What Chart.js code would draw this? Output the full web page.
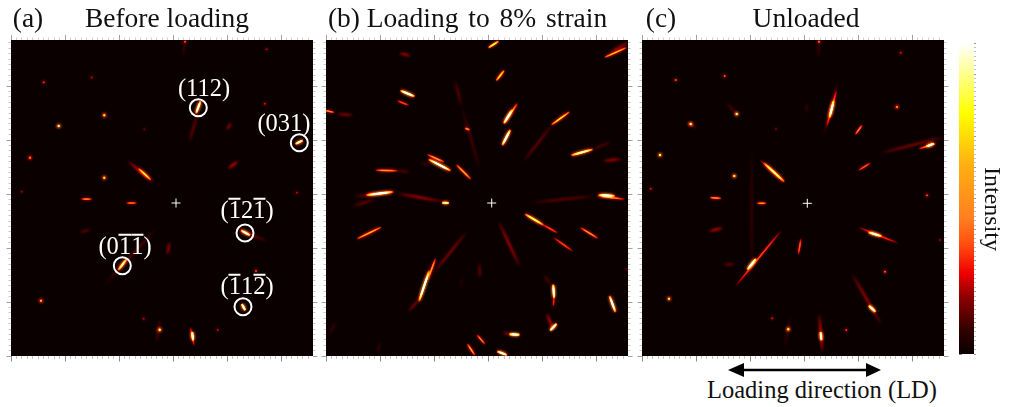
<!DOCTYPE html>
<html><head><meta charset="utf-8">
<script src="https://cdn.jsdelivr.net/npm/chart.js@4"></script>
<style>
html,body{margin:0;padding:0;background:#fff;width:1024px;height:407px;overflow:hidden}
canvas{position:absolute;filter:blur(.3px)}
.t{position:absolute;font-family:"Liberation Serif",serif;color:#111;white-space:pre;line-height:1;transform:translateX(-50%)}
.l{position:absolute;font-family:"Liberation Serif",serif;color:#fff;white-space:pre;line-height:1;font-size:24.5px;transform:translate(-50%,-50%)}
.b{position:relative;display:inline-block}
.b::before{content:"";position:absolute;left:0;right:0;top:0;height:1.5px;background:#fff}
</style></head><body>
<canvas id="pa" width="318" height="332" style="left:3px;top:32px"></canvas>
<canvas id="pb" width="318" height="332" style="left:318px;top:32px"></canvas>
<canvas id="pc" width="318" height="332" style="left:634px;top:32px"></canvas>
<canvas id="cb" width="74" height="335" style="left:950px;top:31px"></canvas>

<div class="t" style="left:28px;top:4px;font-size:27.5px">(a)</div>
<div class="t" style="left:167px;top:4px;font-size:27.5px">Before loading</div>
<div class="t" style="left:344px;top:4px;font-size:27.5px">(b)</div>
<div class="t" style="left:487px;top:4px;font-size:27.5px;word-spacing:3px">Loading to 8% strain</div>
<div class="t" style="left:661px;top:4px;font-size:27.5px">(c)</div>
<div class="t" style="left:806px;top:4px;font-size:27.5px">Unloaded</div>
<div class="t" style="left:822px;top:378px;font-size:24.5px">Loading direction (LD)</div>
<div class="t" style="left:993px;top:167px;font-size:24px;writing-mode:vertical-rl;transform:none;margin-left:-12px">Intensity</div>

<div class="l" style="left:204px;top:88px">(112)</div>
<div class="l" style="left:284px;top:123px">(031)</div>
<div class="l" style="left:247px;top:210px">(<span class="b">1</span>2<span class="b">1</span>)</div>
<div class="l" style="left:125px;top:246px">(0<span class="b">1</span><span class="b">1</span>)</div>
<div class="l" style="left:247px;top:286px">(<span class="b">1</span>1<span class="b">2</span>)</div>

<svg style="position:absolute;left:720px;top:358px" width="170" height="24"><path d="M8 12 L24 5 L24 10.7 L146 10.7 L146 5 L161 12 L146 19 L146 13.3 L24 13.3 L24 19 Z" fill="#000"/></svg>

<script>
// [x1, y1, x2, y2, intensity] in detector coordinates
const streaksA=[[189.8,60.5,184.8,74,170],[186.7,73.3,178,103,25],[284,104.2,292.3,100.2,150],[174,2,172,15,15],[127.3,128.3,140,140,120],[116.7,121,143.3,142.7,40],[216,90,220,82.7,35],[216.7,129,227.3,121,40],[70,159,81,159.3,70],[115,163,126,163,60],[68.3,192.7,80,189.3,22],[107,230.5,116,218.5,140],[93.3,245,146.7,186.7,22],[156.3,215,158.7,201.7,35],[229.5,190,239.5,195.7,170],[223.3,187.3,256.7,201.7,25],[230.5,263.5,234.5,270.8,180],[145.3,303,149.3,278.3,20],[181.2,291.3,182.1,301,180],[179.3,287,183.3,306,50]];
// [x, y, intensity]
const spotsA=[[93.3,75.3,110],[47.7,86,130],[19,117.7,80],[32.7,42.3,45],[80.7,37.3,30],[174,1.7,50],[255.7,9.3,30],[253.7,63.7,35],[133.3,89.3,20],[93.3,137.7,110],[286,152.7,30],[10.7,151.7,25],[245,231,45],[30,260.7,95],[132.7,278.7,30],[148.7,289.7,125],[206.7,290,30]];
const streaksB=[[162,8,173,1,120],[170,41,178.5,30,110],[73,13,85,16,35],[74,50.3,89,56.7,175],[70.7,60.5,83.3,65.5,50],[-2,70.3,8.5,72.6,70],[10.7,73.7,27.3,75.3,30],[129,40,135.7,66.7,22],[135.7,66.7,154,130,18],[138.5,88,144,90,75],[178,83,191.7,63,80],[177.6,84,186.4,69.4,185],[176,105.8,184.6,89.2,175],[197.3,121.7,227.3,83.3,25],[225,85.2,244,71.5,110],[244.5,115.5,267.5,109.2,140],[265.7,109.7,285.7,101.7,20],[276.7,121,295.7,119,35],[278,17.6,301,7.4,100],[284,11.7,304,1.7,35],[101,114.4,118.6,122.3,80],[102,119,125.3,131,180],[94,123,104,125,15],[130,124.4,145.3,139.6,85],[49,130.3,72,130.7,80],[70,130.7,84,132,20],[39.7,155.2,67.7,151.8,175],[27.3,156.7,72.3,151.3,30],[70.7,153.3,117.3,161.7,35],[115.5,162.7,123.5,163,140],[27.3,166,49,159.3,25],[30.5,199.2,55.8,186.8,95],[204.7,162.7,270.7,155.7,22],[270.7,155.7,299,159.3,70],[272,155,289.3,156,175],[198.5,173.7,217.9,185.3,130],[215.7,184,232.3,193.3,50],[254,187.3,272.4,198.7,75],[227.3,197.3,247.3,211.7,50],[172.3,180.7,194,227.3,35],[140.7,191.7,107.3,233.3,30],[109.7,218,101.6,240.3,80],[103.5,230,92.8,262,185],[94,258.3,82.3,271.7,30],[153.3,223.3,154,238.3,25],[227.2,244,228.1,258.7,190],[228,256.7,227.3,266.7,45],[217.3,235,225.7,245,20],[283.3,255.3,289.7,272.7,165],[299,228.3,302,230,30],[223.7,291,231,283.3,175],[220.7,273.3,227.3,290,40],[183,294.2,194,294.8,190],[176.7,292.3,184.7,294.3,30],[150.7,294.6,159.3,304.4,65],[141.2,303.7,149.1,315.6,85],[170.8,311.1,181.5,315.3,165],[2.3,295,10.7,281.7,15],[51.3,313.3,54,301.7,15],[134,247,137,237,10]];
const spotsB=[];
const streaksC=[[187.5,78,191.8,60.3,195],[184.7,86.7,194.7,50,60],[181.3,96.7,196.3,40,20],[177,2,176.5,17,15],[84.7,63.3,94.7,74,20],[44.7,81.7,54.7,88.3,25],[164.7,63.3,164.7,73.3,15],[213,95,220.4,84.7,65],[216,130.6,229,122.7,55],[284,106.7,292.4,103.3,195],[238,113.3,303,96.7,30],[276.3,109,294.7,103.3,60],[121.5,122.6,142.8,142.1,135],[118,120,143,142.7,50],[67.5,157.6,79.5,158.4,80],[114.8,163.3,124.5,163.3,80],[109.7,110,109.7,240,14],[66.3,191.7,81.3,187.7,40],[156.3,215,159,198.3,55],[105,230,114.3,218.3,195],[93,246.7,139.7,190,50],[226,192.1,240,196.3,195],[216.3,187.3,256.3,203.3,45],[226.5,265.3,233.8,272.1,195],[209.7,233.3,239.7,285,35],[143,306.7,148,276.7,15],[178.5,291.5,179.5,300.8,195],[177,273.3,180.7,313.3,40],[81.3,225,93,224,25]];
const spotsC=[[177,1.7,60],[258.7,12.7,35],[255,67,90],[94.7,74,130],[48.7,84,130],[18,115,120],[33.7,40,50],[82.7,36,50],[134,89,20],[92.3,136,120],[8.7,148.7,35],[285,155.3,50],[243,231.7,55],[27,258.7,110],[130.3,278.3,35],[146.3,289.3,120],[204.3,290,45],[298,200,25]];
const ringsA=[[187.3,67.7],[288.3,102.7],[234,193],[111.3,225.7],[232,266.7]];
const centres={pa:[165,163],pb:[165.7,163],pc:[165.3,163.3]};
const xMajor=[0,54,108,162,216,270];
const yMajor=[46,100,154,208,262,316];
const colourLevels=[0,15,37,52,71,88,122,155,200];
const colourStops=['#0a0000','#300000','#900000','#f00000','#ff5010','#ff8020','#ffb010','#ffff00','#ffffff'];
const barMajor=[0,20,40,60,80,100,120,140,160,180,200];
const barLabels=[0,200];

function rgb(h){return [1,3,5].map(i=>parseInt(h.substr(i,2),16));}
function hot(v){
  v=Math.min(200,v);
  let i=0;while(i<colourLevels.length-2&&v>colourLevels[i+1])i++;
  const t=Math.min(1,(v-colourLevels[i])/(colourLevels[i+1]-colourLevels[i]));
  const a=rgb(colourStops[i]),b=rgb(colourStops[i+1]);
  return 'rgb('+a.map((c,k)=>Math.max(0,Math.round(c+(b[k]-c)*t)-(k===0?10:0))).join(',')+')';
}
const taperAt=[0,.12,.3,.5,.7,.88,1];
const taperBy=[0,.55,.9,1,.9,.55,0];
function taper(peak){
  return function(ctx){
    const ch=ctx.chart,d=ch.data.datasets[ctx.datasetIndex].data;
    const sx=ch.scales.x,sy=ch.scales.y;
    if(!sx||!sy||!ch.chartArea)return '#000';
    const g=ch.ctx.createLinearGradient(sx.getPixelForValue(d[0].x),sy.getPixelForValue(d[0].y),sx.getPixelForValue(d[1].x),sy.getPixelForValue(d[1].y));
    taperAt.forEach((t,i)=>g.addColorStop(t,hot(peak*taperBy[i])));
    return g;
  };
}
const soft={id:'soft',
  beforeDraw(ch){const a=ch.chartArea,c=ch.ctx;c.save();c.fillStyle='#0a0000';c.fillRect(a.left,a.top,a.right-a.left,a.bottom-a.top);c.restore();},
  beforeDatasetDraw(ch,args){const d=ch.data.datasets[args.index],c=ch.ctx;c.save();if(d.soft){c.filter='blur('+d.soft+'px)';c.globalCompositeOperation='lighter';}},
  afterDatasetDraw(ch){ch.ctx.restore();}
};
function tickAxis(pos,min,max,reverse,ticks,len,col){
  const horiz=pos==='top'||pos==='bottom';
  return {type:'linear',position:pos,min,max,reverse,display:true,
    border:{display:false},ticks:{display:false},
    grid:{drawOnChartArea:false,drawTicks:true,tickLength:len,tickColor:col,tickWidth:1},
    afterBuildTicks(s){s.ticks=ticks.map(v=>({value:v}));},
    afterFit(s){if(horiz)s.height=0;else s.width=0;}};
}
function minorFrom(major,step,min,max){
  const out=[];
  for(let v=major[0];v<=max;v+=step)if(!major.includes(+v.toFixed(2)))out.push(+v.toFixed(2));
  for(let v=major[0]-step;v>=min;v-=step)out.push(+v.toFixed(2));
  return out;
}
function streakSet(s,peak,width,blur){
  return {type:'line',soft:blur,data:[{x:s[0],y:s[1]},{x:s[2],y:s[3]}],borderColor:taper(peak),
    borderWidth:width,borderCapStyle:'butt',pointRadius:0,tension:0,fill:false,xAxisID:'x',yAxisID:'y'};
}
function panel(id,streaks,spots,rings){
  const W=302,H=316;
  const xm=minorFrom(xMajor,5.4,0,W), ym=minorFrom(yMajor,5.4,0,H);
  const ds=[];
  ds.push({type:'scatter',data:[{x:centres[id][0],y:centres[id][1]}],pointStyle:'cross',pointRadius:4.5,pointBorderColor:'#fff',pointBackgroundColor:'#fff',pointBorderWidth:1,xAxisID:'x',yAxisID:'y'});
  if(rings)ds.push({type:'scatter',data:rings.map(r=>({x:r[0],y:r[1]})),pointStyle:'circle',pointRadius:8.5,pointBorderColor:'#fff',pointBackgroundColor:'rgba(0,0,0,0)',pointBorderWidth:2,xAxisID:'x',yAxisID:'y'});
  if(spots.length){
    const xy=spots.map(s=>({x:s[0],y:s[1]}));
    ds.push({type:'scatter',soft:.5,data:xy,pointRadius:spots.map(s=>s[2]>90?1:.9),pointBorderWidth:0,
      pointBackgroundColor:spots.map(s=>hot(s[2]*1.4)),xAxisID:'x',yAxisID:'y'});
    ds.push({type:'scatter',soft:1,data:xy,pointRadius:2.2,pointBorderWidth:0,
      pointBackgroundColor:spots.map(s=>hot(s[2]*.6)),xAxisID:'x',yAxisID:'y'});
  }
  streaks.slice().sort((a,b)=>b[4]-a[4]).forEach(s=>{
    const v=s[4];
    if(v<45){ds.push(streakSet(s,v*1.2,2.4,.9));}
    else{
      ds.push(streakSet(s,v*1.35,v>120?1.9:1.5,.5));
      ds.push(streakSet(s,v*.55,v>120?3.8:3.2,1.1));
    }
  });
  new Chart(document.getElementById(id),{
    data:{datasets:ds},
    plugins:[soft],
    options:{responsive:false,animation:false,devicePixelRatio:1,
      layout:{padding:8,autoPadding:false},
      plugins:{legend:{display:false},tooltip:{enabled:false},title:{display:false}},
      scales:{
        x:tickAxis('bottom',0,W,false,xm,3,'#c4c4c4'),
        xM:tickAxis('bottom',0,W,false,xMajor,5.5,'#8a8a8a'),
        xT:tickAxis('top',0,W,false,xm,2.5,'#d0d0d0'),
        xTM:tickAxis('top',0,W,false,xMajor,5,'#a0a0a0'),
        y:tickAxis('left',0,H,true,ym,2.5,'#c8c8c8'),
        yM:tickAxis('left',0,H,true,yMajor,4.5,'#a0a0a0'),
        yR:tickAxis('right',0,H,true,ym,2.5,'#c8c8c8'),
        yRM:tickAxis('right',0,H,true,yMajor,4.5,'#a0a0a0')
      }}
  });
}
panel('pa',streaksA,spotsA,ringsA);
panel('pb',streaksB,spotsB,null);
panel('pc',streaksC,spotsC,null);

// colour bar: one floating bar painted with the colour scale
const barMinor=minorFrom(barMajor,20/7,0,200);
new Chart(document.getElementById('cb'),{
  type:'bar',
  data:{labels:['Intensity'],datasets:[{data:[[0,200]],barPercentage:1,categoryPercentage:1,
    backgroundColor(ctx){
      const a=ctx.chart.chartArea;if(!a)return '#000';
      const g=ctx.chart.ctx.createLinearGradient(0,a.bottom,0,a.top);
      colourLevels.forEach((v,i)=>g.addColorStop(v/200,colourStops[i]));
      return g;
    },xAxisID:'x',yAxisID:'y'}]},
  options:{responsive:false,animation:false,devicePixelRatio:1,
    layout:{padding:{left:9,right:50,top:12,bottom:12},autoPadding:false},
    plugins:{legend:{display:false},tooltip:{enabled:false}},
    scales:{
      x:{display:false},
      y:tickAxis('left',0,200,false,barMinor,-3,'rgba(130,130,130,.45)'),
      yM:tickAxis('left',0,200,false,barMajor,-3,'rgba(90,90,90,.7)'),
      yR:tickAxis('right',0,200,false,barMinor,2,'#c0c0c0'),
      yRM:tickAxis('right',0,200,false,barMajor,2,'#999'),
      yI:tickAxis('right',0,200,false,barMinor,-2,'rgba(130,130,130,.45)'),
      yL:{type:'linear',position:'right',min:-.45,max:202.6,display:true,border:{display:false},
        grid:{display:false},
        ticks:{padding:11,color:'#111',font:{family:'"Liberation Serif"',size:23.5},autoSkip:false},
        afterBuildTicks(s){s.ticks=barLabels.map(v=>({value:v}));},
        afterFit(s){s.width=0;s.paddingTop=0;s.paddingBottom=0;}}
    }}
});
</script>
</body></html>
